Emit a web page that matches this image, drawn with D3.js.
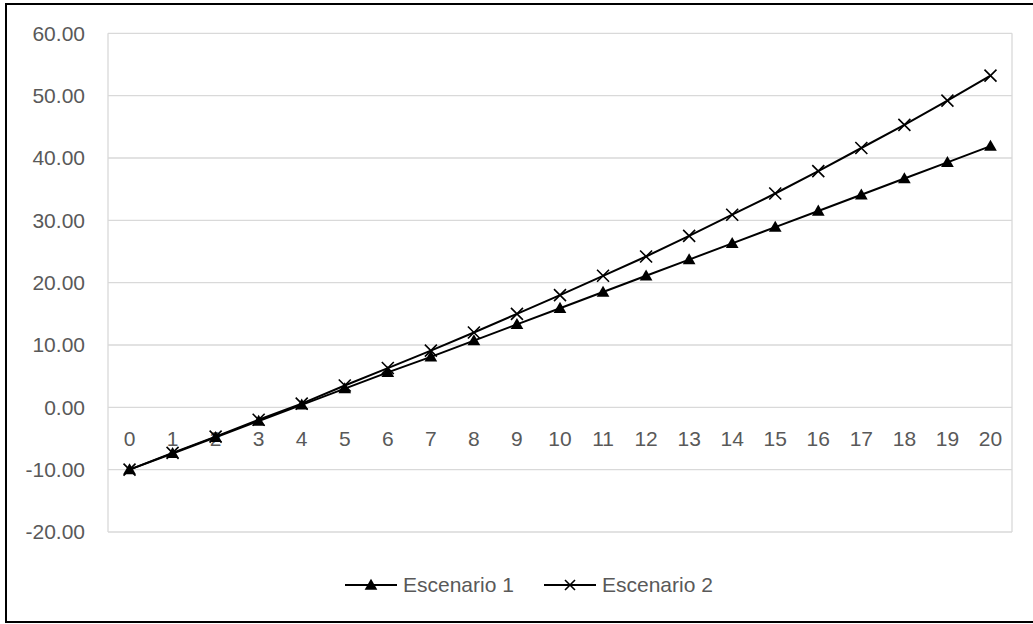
<!DOCTYPE html>
<html>
<head>
<meta charset="utf-8">
<script src="https://cdn.jsdelivr.net/npm/d3@7"></script>
<style>
  html, body { margin: 0; padding: 0; background: #fff; }
  svg { display: block; }
  text { font-family: "Liberation Sans", Arial, sans-serif; fill: #595959; }
</style>
</head>
<body>
<svg id="chart" width="1033" height="624"></svg>
<script>
// Categories (periods) and the two scenarios
const periods = ["0","1","2","3","4","5","6","7","8","9","10","11","12","13","14","15","16","17","18","19","20"];
const escenario1 = [-10, -7.4, -4.8, -2.2, 0.4, 3.0, 5.6, 8.1, 10.7, 13.3, 15.9, 18.5, 21.1, 23.7, 26.3, 28.9, 31.5, 34.1, 36.7, 39.3, 41.9];
const escenario2 = [-10, -7.3, -4.7, -2.0, 0.6, 3.5, 6.3, 9.1, 12.0, 15.0, 18.0, 21.1, 24.2, 27.5, 30.9, 34.3, 37.9, 41.6, 45.3, 49.2, 53.2];
const yTicks = [-20, -10, 0, 10, 20, 30, 40, 50, 60];
const seriesNames = ["Escenario 1", "Escenario 2"];

const svg = d3.select("#chart");

// Outer chart frame
svg.append("rect")
  .attr("x", 6).attr("y", 4)
  .attr("width", 1060).attr("height", 618)
  .attr("fill", "none").attr("stroke", "#000").attr("stroke-width", 2);

const plot = { left: 108, right: 1012, top: 33.3, bottom: 532 };

const x = d3.scaleBand().domain(periods).range([plot.left, plot.right]).padding(0);
const cx = d => x(d) + x.bandwidth() / 2;
const y = d3.scaleLinear().domain([-20, 60]).range([plot.bottom, plot.top]);

// Horizontal gridlines
svg.append("g")
  .selectAll("line")
  .data(yTicks)
  .join("line")
  .attr("x1", plot.left).attr("x2", plot.right)
  .attr("y1", d => y(d)).attr("y2", d => y(d))
  .attr("stroke", "#d9d9d9").attr("stroke-width", 1.3);

// Plot-area side edges
[plot.left, plot.right].forEach(px => {
  svg.append("line")
    .attr("x1", px).attr("x2", px)
    .attr("y1", plot.top).attr("y2", plot.bottom)
    .attr("stroke", "#d9d9d9").attr("stroke-width", 1.3);
});

// Y axis labels (plain hyphen for negatives)
const fmt = d => d.toFixed(2);
const yAxis = d3.axisLeft(y).tickValues(yTicks).tickFormat(fmt).tickSize(0).tickPadding(0);
const gy = svg.append("g").attr("transform", `translate(${plot.left - 23},0)`).call(yAxis);
gy.select(".domain").remove();
gy.selectAll("text")
  .attr("font-size", 21)
  .attr("font-family", "Liberation Sans, Arial, sans-serif")
  .attr("fill", "#595959");

// X axis labels sit just under the zero line
const xAxis = d3.axisBottom(x).tickSize(0).tickPadding(0);
const gx = svg.append("g").attr("transform", `translate(0,${y(0) + 24})`).call(xAxis);
gx.select(".domain").remove();
gx.selectAll("text")
  .attr("font-size", 21)
  .attr("font-family", "Liberation Sans, Arial, sans-serif")
  .attr("fill", "#595959");

const line = d3.line().x((d, i) => cx(periods[i])).y(d => y(d));

const triangle = d3.symbol().type(d3.symbolTriangle).size(70);

function drawCross(g, px, py, r) {
  g.append("path")
    .attr("d", `M${px - r},${py - r}L${px + r},${py + r}M${px - r},${py + r}L${px + r},${py - r}`)
    .attr("stroke", "#000").attr("stroke-width", 1.6).attr("fill", "none");
}

// Series 2 (crosses)
svg.append("path").datum(escenario2)
  .attr("d", line).attr("fill", "none").attr("stroke", "#000").attr("stroke-width", 2);
const m2 = svg.append("g");
escenario2.forEach((v, i) => drawCross(m2, cx(periods[i]), y(v), 6));

// Series 1 (triangles)
svg.append("path").datum(escenario1)
  .attr("d", line).attr("fill", "none").attr("stroke", "#000").attr("stroke-width", 2);
svg.append("g").selectAll("path")
  .data(escenario1)
  .join("path")
  .attr("d", triangle)
  .attr("transform", (d, i) => `translate(${cx(periods[i])},${y(d) + 1})`)
  .attr("fill", "#000");

// Legend
const legend = svg.append("g").attr("transform", "translate(0,585)");
const items = [{ name: seriesNames[0], x0: 345, marker: "tri" }, { name: seriesNames[1], x0: 544, marker: "x" }];
items.forEach(it => {
  legend.append("line")
    .attr("x1", it.x0).attr("x2", it.x0 + 52)
    .attr("y1", 0).attr("y2", 0)
    .attr("stroke", "#000").attr("stroke-width", 2);
  if (it.marker === "tri") {
    legend.append("path").attr("d", triangle).attr("transform", `translate(${it.x0 + 26},1)`).attr("fill", "#000");
  } else {
    drawCross(legend, it.x0 + 26, 0, 5);
  }
  legend.append("text")
    .attr("x", it.x0 + 58).attr("y", 0).attr("dy", "0.35em")
    .attr("font-size", 21)
    .text(it.name);
});
</script>
</body>
</html>
